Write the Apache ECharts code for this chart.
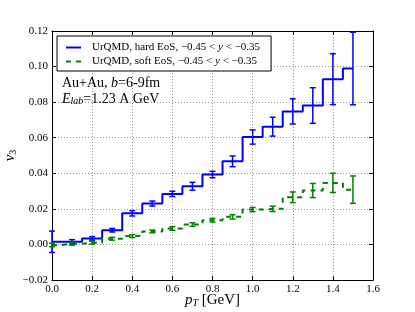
<!DOCTYPE html>
<html>
<head>
<meta charset="utf-8">
<script src="https://cdn.jsdelivr.net/npm/echarts@6/dist/echarts.min.js"></script>
<style>
html,body{margin:0;padding:0;background:#fff;}
#c{width:415px;height:312px;}
</style>
</head>
<body>
<div id="c"></div>
<script>
var pt = [0.0, 0.1, 0.2, 0.3, 0.4, 0.5, 0.6, 0.7, 0.8, 0.9, 1.0, 1.1, 1.2, 1.3, 1.4, 1.5];
var hardV = [0.0015, 0.0015, 0.0034, 0.0080, 0.0175, 0.0230, 0.0284, 0.0327, 0.0393, 0.0467, 0.0604, 0.0662, 0.0748, 0.0781, 0.0929, 0.0989];
var hardErr = [0.0060, 0.0012, 0.0010, 0.0010, 0.0015, 0.0014, 0.0015, 0.0022, 0.0018, 0.0030, 0.0040, 0.0053, 0.0071, 0.0100, 0.0143, 0.0204];
var softV = [-0.0003, 0.0004, 0.0010, 0.0032, 0.0047, 0.0073, 0.0090, 0.0112, 0.0136, 0.0155, 0.0196, 0.0200, 0.0265, 0.0303, 0.0346, 0.0308];
var softErr = [0.0010, 0.0008, 0.0008, 0.0008, 0.0008, 0.0008, 0.0010, 0.0010, 0.0010, 0.0012, 0.0012, 0.0015, 0.0030, 0.0040, 0.0054, 0.0077];
var hardName = 'UrQMD, hard EoS, −0.45 < y < −0.35';
var softName = 'UrQMD, soft EoS, −0.45 < y < −0.35';

var SERIF = '"Liberation Serif", "DejaVu Serif", serif';
var BLUE = '#0000ff', GREEN = '#008000';

function lineData(v) { return pt.map(function (x, i) { return [x, v[i]]; }); }
function errData(v, e) { return pt.map(function (x, i) { return [x, v[i], e[i]]; }); }

function errRender(color) {
  return function (params, api) {
    var x = api.value(0), y = api.value(1), e = api.value(2);
    var top = api.coord([x, y + e]);
    var bot = api.coord([x, y - e]);
    var cw = 3;
    var st = { stroke: color, lineWidth: 1.5 };
    return {
      type: 'group',
      children: [
        { type: 'line', shape: { x1: top[0], y1: top[1], x2: bot[0], y2: bot[1] }, style: st },
        { type: 'line', shape: { x1: top[0] - cw, y1: top[1], x2: top[0] + cw, y2: top[1] }, style: st },
        { type: 'line', shape: { x1: bot[0] - cw, y1: bot[1], x2: bot[0] + cw, y2: bot[1] }, style: st }
      ]
    };
  };
}

function legendFmt(name) {
  var p = name.split(' y ');
  return '{a|' + p[0] + ' }{i|y}{n| ' + p[1] + '}';
}

var chart = echarts.init(document.getElementById('c'), null, { renderer: 'canvas' });
var axisLine = { show: true, onZero: false, lineStyle: { color: '#000', width: 1 } };
var axisTick = { show: true, inside: true, length: 4, lineStyle: { color: '#000' } };

chart.setOption({
  animation: false,
  backgroundColor: '#fff',
  grid: { left: 52, right: 42, top: 31, bottom: 32, containLabel: false, outerBoundsMode: 'none' },
  legend: {
    left: 57, top: 36,
    orient: 'vertical',
    data: [
      { name: hardName, icon: 'rect', itemStyle: { color: BLUE } },
      { name: softName, icon: 'path://M0,0h5v2h-5z M10,0h5v2h-5z', itemStyle: { color: GREEN } }
    ],
    padding: [5, 11, 3, 9],
    itemGap: 1,
    itemWidth: 15,
    itemHeight: 2,
    backgroundColor: '#fff',
    borderColor: '#000',
    borderWidth: 1,
    borderRadius: 0,
    formatter: legendFmt,
    textStyle: {
      fontFamily: SERIF, fontSize: 11, color: '#000', lineHeight: 13,
      rich: {
        a: { fontFamily: SERIF, fontSize: 11, color: '#000', padding: [0, 0, 0, 6], lineHeight: 13 },
        n: { fontFamily: SERIF, fontSize: 11, color: '#000', lineHeight: 13 },
        i: { fontFamily: SERIF, fontSize: 11, color: '#000', fontStyle: 'italic', lineHeight: 13 }
      }
    }
  },
  xAxis: [
    {
      type: 'value', min: 0, max: 1.6, interval: 0.2, position: 'bottom',
      name: '{i|p}{s|T}{n| [GeV]}',
      nameLocation: 'middle', nameGap: 12, nameMoveOverlap: false,
      nameTextStyle: {
        rich: {
          i: { fontFamily: SERIF, fontSize: 15, fontStyle: 'italic', color: '#000' },
          s: { fontFamily: SERIF, fontSize: 10, fontStyle: 'italic', color: '#000', padding: [6, 0, 0, 0] },
          n: { fontFamily: SERIF, fontSize: 15, color: '#000' }
        }
      },
      axisLine: axisLine, axisTick: axisTick,
      axisLabel: { fontFamily: SERIF, fontSize: 11, color: '#000', margin: 4,
        formatter: function (v) { return v.toFixed(1); } },
      splitLine: { show: true, lineStyle: { color: '#999', width: 1, type: [1, 2] } }
    },
    {
      type: 'value', min: 0, max: 1.6, interval: 0.2, position: 'top',
      axisLine: axisLine, axisTick: axisTick,
      axisLabel: { show: false }, splitLine: { show: false }
    }
  ],
  yAxis: [
    {
      type: 'value', min: -0.02, max: 0.12, interval: 0.02, position: 'left',
      name: '{i|v}{s|3}',
      nameLocation: 'middle', nameRotate: 90, nameGap: 34, nameMoveOverlap: false,
      nameTextStyle: {
        rich: {
          i: { fontFamily: SERIF, fontSize: 15, fontStyle: 'italic', color: '#000' },
          s: { fontFamily: SERIF, fontSize: 10, color: '#000', padding: [6, 0, 0, 0] }
        }
      },
      axisLine: axisLine, axisTick: axisTick,
      axisLabel: { fontFamily: SERIF, fontSize: 11, color: '#000', margin: 4,
        formatter: function (v) { return (v < -1e-9 ? '−' : '') + Math.abs(v).toFixed(2); } },
      splitLine: { show: true, lineStyle: { color: '#999', width: 1, type: [1, 2] } }
    },
    {
      type: 'value', min: -0.02, max: 0.12, interval: 0.02, position: 'right',
      axisLine: axisLine, axisTick: axisTick,
      axisLabel: { show: false }, splitLine: { show: false }
    }
  ],
  graphic: [
    {
      type: 'text', left: 62, top: 76, z: 100,
      style: {
        text: '{n|Au+Au, }{i|b}{n|=6-9fm}',
        rich: {
          n: { fontFamily: SERIF, fontSize: 14, fill: '#000' },
          i: { fontFamily: SERIF, fontSize: 14, fontStyle: 'italic', fill: '#000' }
        }
      }
    },
    {
      type: 'text', left: 62, top: 92, z: 100,
      style: {
        text: '{i|E}{s|lab}{n|=1.23 A GeV}',
        rich: {
          n: { fontFamily: SERIF, fontSize: 14, fill: '#000' },
          i: { fontFamily: SERIF, fontSize: 14, fontStyle: 'italic', fill: '#000' },
          s: { fontFamily: SERIF, fontSize: 10, fontStyle: 'italic', fill: '#000', padding: [5, 0, 0, 0] }
        }
      }
    }
  ],
  series: [
    {
      name: hardName, type: 'line', step: 'middle', xAxisIndex: 0, yAxisIndex: 0,
      data: lineData(hardV), symbol: 'none', showSymbol: false,
      lineStyle: { color: BLUE, width: 2 }, itemStyle: { color: BLUE }, z: 3
    },
    {
      name: hardName + ' err', type: 'custom', xAxisIndex: 0, yAxisIndex: 0,
      data: errData(hardV, hardErr), renderItem: errRender(BLUE), z: 4, clip: false
    },
    {
      name: softName, type: 'line', step: 'middle', xAxisIndex: 0, yAxisIndex: 0,
      data: lineData(softV), symbol: 'none', showSymbol: false,
      lineStyle: { color: GREEN, width: 2, type: [5, 5] }, itemStyle: { color: GREEN }, z: 3
    },
    {
      name: softName + ' err', type: 'custom', xAxisIndex: 0, yAxisIndex: 0,
      data: errData(softV, softErr), renderItem: errRender(GREEN), z: 4, clip: false
    }
  ]
});
</script>
</body>
</html>
